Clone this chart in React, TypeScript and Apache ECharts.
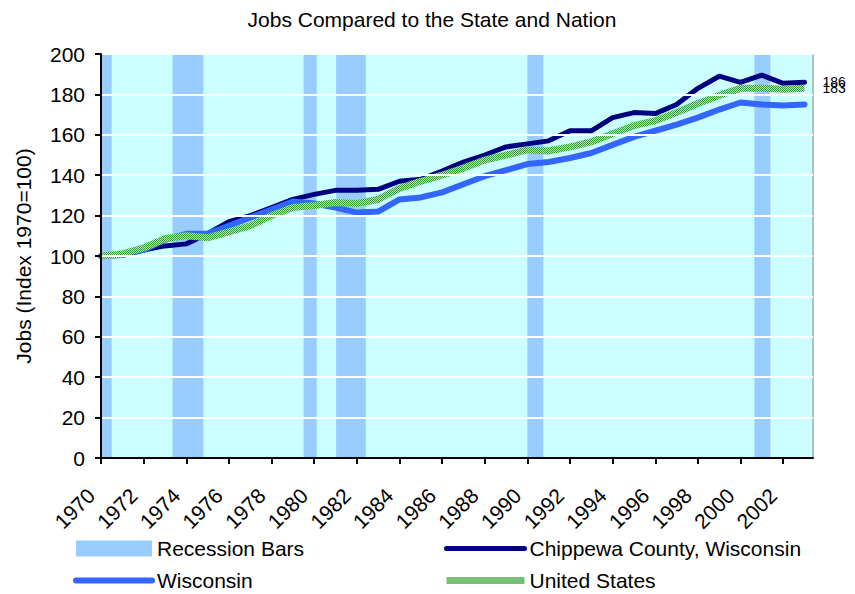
import React, { useEffect, useRef } from "react";
import * as echarts from "echarts";

const years: number[] = [];
for (let y = 1970; y <= 2003; y++) years.push(y);

const chippewa = [100, 100.5, 103, 105, 106, 111, 117, 120, 124, 128, 130.5, 132.5, 132.5, 133, 137, 138, 142, 146.5, 150, 154, 155.5, 157, 162, 162, 168.5, 171, 170.5, 175, 183, 189, 186, 189.5, 185.5, 186];
const wisconsin = [100, 100.5, 103, 108, 111, 111, 115, 119, 123, 127, 126, 124, 121.5, 122, 128, 129, 131.5, 135.5, 139.5, 142.5, 145.5, 146.5, 148.5, 151, 155, 159, 162, 165, 168.5, 172.5, 176, 175, 174.5, 175];
const unitedStates = [100, 101, 104, 108.5, 110, 109, 112, 115, 120, 124, 125, 126.5, 126, 128, 133.5, 137, 140, 143.5, 147.5, 150, 152.5, 152, 154, 156.5, 160.5, 164.5, 167, 171, 175.5, 179.5, 183, 183, 182.5, 183];

const recessions: [number, number][] = [
  [1970, 1970.5],
  [1973.35, 1974.8],
  [1979.5, 1980.12],
  [1981.03, 1982.42],
  [1990.0, 1990.75],
  [2000.65, 2001.4],
];

const FONT = "'Liberation Sans', Arial, sans-serif";
const FS = 21;

function makePattern(): any {
  const c = document.createElement("canvas");
  c.width = 2;
  c.height = 2;
  const ctx = c.getContext("2d")!;
  ctx.fillStyle = "#B8E6B8";
  ctx.fillRect(0, 0, 2, 2);
  ctx.fillStyle = "#339933";
  ctx.fillRect(0, 0, 1, 1);
  ctx.fillRect(1, 1, 1, 1);
  return { image: c.toDataURL(), repeat: "repeat", imageWidth: 2, imageHeight: 2 };
}

export default function App() {
  const ref = useRef<HTMLDivElement>(null);
  useEffect(() => {
    document.body.style.margin = "0";
    const chart = echarts.init(ref.current!, null, { renderer: "svg" });
    const usColor = makePattern();
    const pair = (arr: number[]) => arr.map((v, i) => [years[i], v]);
    const legendCommon = {
      orient: "vertical",
      top: 538,
      height: 120,
      padding: 0,
      itemHeight: 16,
      itemGap: 11,
      textStyle: { fontSize: FS, color: "#000", fontFamily: FONT },
      lineStyle: { width: "inherit" },
    };
    chart.setOption({
      animation: false,
      textStyle: { fontFamily: FONT },
      title: {
        text: "Jobs Compared to the State and Nation",
        left: 427,
        textAlign: "center",
        top: 4,
        textStyle: { fontSize: FS, fontWeight: "normal", color: "#000", fontFamily: FONT },
      },
      grid: {
        left: 101,
        top: 54,
        right: 42,
        bottom: 136,
        show: true,
        backgroundColor: "#CCFFFF",
        borderColor: "#808080",
        borderWidth: 1,
      },
      legend: [
        {
          ...legendCommon,
          left: 73,
          itemWidth: 76,
          data: [
            { name: "Recession Bars", icon: "rect", itemStyle: { color: "#99CCFF" } },
            { name: "Wisconsin", itemStyle: { opacity: 0 } },
          ],
        },
        {
          ...legendCommon,
          left: 443,
          itemWidth: 78,
          data: [
            { name: "Chippewa County, Wisconsin", itemStyle: { opacity: 0 } },
            { name: "United States", itemStyle: { opacity: 0 } },
          ],
        },
      ],
      xAxis: {
        type: "value",
        min: 1970,
        max: 2003.4,
        interval: 2,
        z: 5,
        axisLine: { show: true, lineStyle: { color: "#000", width: 2 } },
        axisTick: { show: true, length: 6, lineStyle: { color: "#000", width: 2 } },
        splitLine: { show: false },
        axisLabel: {
          rotate: 45,
          fontSize: FS,
          color: "#000",
          margin: 24,
          padding: [0, 14, 0, 0],
          fontFamily: FONT,
          showMaxLabel: false,
          formatter: (v: number) => (Number.isInteger(v) && v % 2 === 0 ? String(v) : ""),
        },
      },
      yAxis: {
        type: "value",
        min: 0,
        max: 200,
        interval: 20,
        z: 5,
        name: "Jobs (Index 1970=100)",
        nameLocation: "middle",
        nameRotate: 90,
        nameGap: 67,
        nameTextStyle: { fontSize: FS, color: "#000", fontFamily: FONT },
        axisLine: { show: true, lineStyle: { color: "#000", width: 2 } },
        axisTick: { show: true, length: 6, lineStyle: { color: "#000", width: 2 } },
        splitLine: { show: true, lineStyle: { color: "#FFFFFF", width: 2 } },
        axisLabel: { fontSize: FS, color: "#000", margin: 16, fontFamily: FONT },
      },
      series: [
        {
          name: "Recession Bars",
          type: "custom",
          itemStyle: { color: "#99CCFF" },
          data: recessions,
          renderItem: (params: any, api: any) => {
            const p0 = api.coord([api.value(0), 200]);
            const p1 = api.coord([api.value(1), 0]);
            return {
              type: "rect",
              shape: { x: p0[0], y: p0[1], width: p1[0] - p0[0], height: p1[1] - p0[1] },
              style: { fill: "#99CCFF" },
            };
          },
          encode: { x: [0, 1] },
        },
        {
          name: "Chippewa County, Wisconsin",
          type: "line",
          data: pair(chippewa),
          showSymbol: false,
          symbol: "none",
          lineStyle: { color: "#000080", width: 5, cap: "round", join: "round" },
          itemStyle: { color: "#000080" },
          endLabel: {
            show: true,
            formatter: (p: any) => String(Math.round(p.value[1])),
            color: "#000",
            fontSize: 14,
            distance: 18,
            fontFamily: FONT,
          },
          z: 3,
        },
        {
          name: "Wisconsin",
          type: "line",
          data: pair(wisconsin),
          showSymbol: false,
          symbol: "none",
          lineStyle: { color: "#3366FF", width: 6, cap: "round", join: "round" },
          itemStyle: { color: "#3366FF" },
          z: 4,
        },
        {
          name: "United States",
          type: "line",
          data: pair(unitedStates),
          showSymbol: false,
          symbol: "none",
          lineStyle: { color: usColor, width: 7, cap: "butt" },
          itemStyle: { color: usColor },
          endLabel: {
            show: true,
            formatter: (p: any) => String(Math.round(p.value[1])),
            color: "#000",
            fontSize: 14,
            distance: 18,
            fontFamily: FONT,
          },
          z: 4.5,
        },
      ],
    });
    return () => chart.dispose();
  }, []);
  return <div ref={ref} style={{ width: 855, height: 594 }} />;
}
